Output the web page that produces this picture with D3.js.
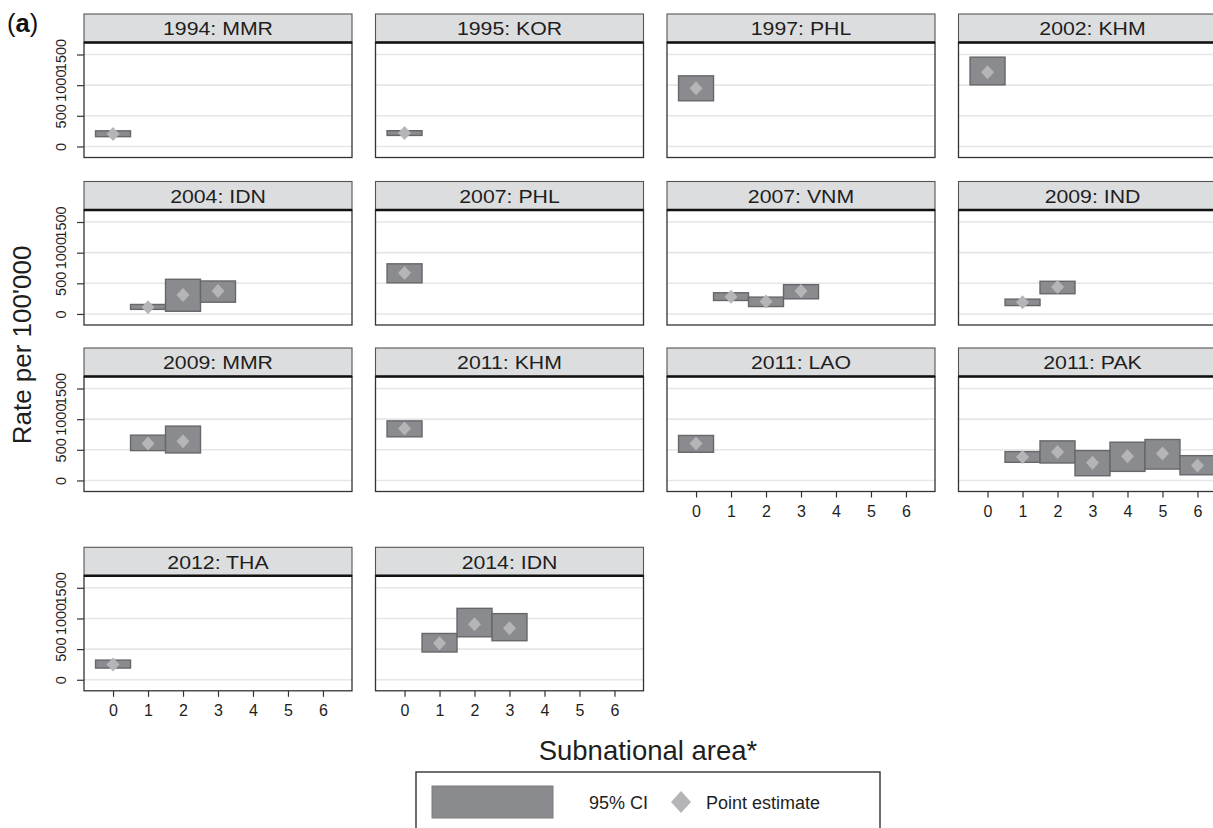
<!DOCTYPE html>
<html>
<head>
<meta charset="utf-8">
<script src="https://cdn.jsdelivr.net/npm/d3@7"></script>
<style>
  html, body { margin: 0; padding: 0; background: #fff; }
  svg { display: block; font-family: "Liberation Sans", Arial, Helvetica, sans-serif; }
</style>
</head>
<body>
<svg id="chart" width="1213" height="828"></svg>
<script>
// ---------- data ----------
const panelTitles = ["1994: MMR", "1995: KOR", "1997: PHL", "2002: KHM",
                     "2004: IDN", "2007: PHL", "2007: VNM", "2009: IND",
                     "2009: MMR", "2011: KHM", "2011: LAO", "2011: PAK",
                     "2012: THA", "2014: IDN"];
const areas = [[0], [0], [0], [0],
               [1, 2, 3], [0], [1, 2, 3], [1, 2],
               [1, 2], [0], [0], [1, 2, 3, 4, 5, 6],
               [0], [1, 2, 3]];
const estimates = [[205], [219], [951], [1212],
                   [110, 308, 374], [668], [280, 203, 374], [192, 440],
                   [602, 641], [846], [602], [383, 465, 290, 394, 438, 246],
                   [250], [594, 906, 842]];
const lower = [[160], [180], [745], [1005],
               [75, 44, 192], [508], [220, 121, 247], [137, 330],
               [487, 449], [712], [460], [296, 285, 77, 148, 186, 93],
               [191], [453, 701, 637]];
const upper = [[255], [257], [1152], [1457],
               [155, 566, 538], [818], [346, 275, 478], [242, 533],
               [739, 887], [972], [734], [471, 646, 487, 624, 668, 405],
               [321], [755, 1165, 1079]];
const yTicks = [0, 500, 1000, 1500];
const xTicks = [0, 1, 2, 3, 4, 5, 6];
const yTitle = "Rate per 100'000";
const xTitle = "Subnational area*";
const legendLabels = ["95% CI", "Point estimate"];

// ---------- layout ----------
const colLeft = [84, 375.5, 667, 958.5];
const rowTop = [14, 181.5, 348, 547.3];
const panelW = 268, stripH = 28.5, plotH = 115;
const nCols = 4;
const bottomInCol = {};
panelTitles.forEach((t, i) => { bottomInCol[i % nCols] = i; });

const colors = {
  strip: "#dcdddf", frame: "#333", grid: "#e6e6e6",
  box: "#8a8b8f", boxStroke: "#67676a", diamond: "#b5b5b7", text: "#1e1e1e"
};
const FONT = "'Liberation Sans', Arial, sans-serif";

const svg = d3.select("#chart");

const x = d3.scaleLinear().domain([-0.83, 6.83]).range([0, panelW]);
const y = d3.scaleLinear().domain([-180, 1696]).range([plotH, 0]);

const diamond = (cx, cy, hw, hh) =>
  `M${cx},${cy - hh}L${cx + hw},${cy}L${cx},${cy + hh}L${cx - hw},${cy}Z`;

panelTitles.forEach((title, i) => {
  const c = i % nCols, r = Math.floor(i / nCols);
  const g = svg.append("g").attr("transform", `translate(${colLeft[c]},${rowTop[r]})`);

  // strip
  g.append("rect").attr("x", 0).attr("y", 0).attr("width", panelW).attr("height", stripH)
    .attr("fill", colors.strip).attr("stroke", "#555").attr("stroke-width", 1.1);
  g.append("text")
    .attr("transform", `translate(${panelW / 2},${stripH / 2 + 7}) scale(1.12,1)`)
    .attr("text-anchor", "middle").attr("font-size", 19).attr("fill", colors.text).text(title);

  const p = g.append("g").attr("transform", `translate(0,${stripH})`);
  p.append("rect").attr("width", panelW).attr("height", plotH).attr("fill", "#fff");
  p.selectAll("line.grid").data(yTicks).join("line").attr("class", "grid")
    .attr("x1", 0).attr("x2", panelW).attr("y1", d => y(d)).attr("y2", d => y(d))
    .attr("stroke", colors.grid).attr("stroke-width", 1.6);

  const rows = areas[i].map((a, k) => ({ a, est: estimates[i][k], lo: lower[i][k], hi: upper[i][k] }));
  p.selectAll("rect.ci").data(rows).join("rect").attr("class", "ci")
    .attr("x", d => x(d.a - 0.5)).attr("width", d => x(d.a + 0.5) - x(d.a - 0.5))
    .attr("y", d => y(d.hi)).attr("height", d => y(d.lo) - y(d.hi))
    .attr("fill", colors.box).attr("stroke", colors.boxStroke).attr("stroke-width", 1.4);
  p.selectAll("path.pt").data(rows).join("path").attr("class", "pt")
    .attr("d", d => diamond(x(d.a), y(d.est), 6.5, 7))
    .attr("fill", colors.diamond);

  p.append("rect").attr("width", panelW).attr("height", plotH).attr("fill", "none")
    .attr("stroke", colors.frame).attr("stroke-width", 1.3);
  p.append("line").attr("x1", 0).attr("x2", panelW).attr("y1", 0).attr("y2", 0)
    .attr("stroke", "#111").attr("stroke-width", 2.4);

  if (c === 0) {
    const ya = p.append("g").call(d3.axisLeft(y).tickValues(yTicks).tickSize(7).tickFormat(d3.format("d")));
    ya.select(".domain").remove();
    ya.selectAll(".tick line").attr("stroke", "#333").attr("stroke-width", 1.2);
    ya.selectAll(".tick text")
      .attr("font-size", 14.5).attr("fill", colors.text).attr("font-family", FONT)
      .attr("transform", "rotate(-90)")
      .attr("x", 0).attr("y", -18).attr("dy", 0)
      .attr("text-anchor", "middle");
  }
  if (bottomInCol[c] === i) {
    const xa = p.append("g").attr("transform", `translate(0,${plotH})`)
      .call(d3.axisBottom(x).tickValues(xTicks).tickSize(6).tickFormat(d3.format("d")));
    xa.select(".domain").remove();
    xa.selectAll(".tick line").attr("stroke", "#333").attr("stroke-width", 1.2);
    xa.selectAll(".tick text").attr("font-size", 16).attr("fill", colors.text)
      .attr("font-family", FONT).attr("y", 14);
  }
});

// panel label
const lab = svg.append("text").attr("x", 7).attr("y", 31.5).attr("font-size", 25.5).attr("fill", "#111");
lab.append("tspan").text("(");
lab.append("tspan").attr("font-weight", "bold").text("a");
lab.append("tspan").text(")");

// axis titles
svg.append("text").attr("transform", "translate(31,345) rotate(-90)")
  .attr("text-anchor", "middle").attr("font-size", 26).attr("fill", colors.text).text(yTitle);
svg.append("text").attr("x", 648).attr("y", 760)
  .attr("text-anchor", "middle").attr("font-size", 27.5).attr("fill", colors.text).text(xTitle);

// legend
const lg = svg.append("g");
lg.append("rect").attr("x", 416).attr("y", 772).attr("width", 464).attr("height", 70)
  .attr("fill", "#fff").attr("stroke", "#222").attr("stroke-width", 1.3);
lg.append("rect").attr("x", 432).attr("y", 786).attr("width", 121).attr("height", 32)
  .attr("fill", colors.box).attr("stroke", "#7a7a7c").attr("stroke-width", 1);
lg.append("text").attr("x", 589).attr("y", 809).attr("font-size", 18).attr("fill", colors.text).text(legendLabels[0]);
lg.append("path").attr("d", diamond(681, 802, 10, 11)).attr("fill", colors.diamond);
lg.append("text").attr("x", 706).attr("y", 809).attr("font-size", 18).attr("fill", colors.text).text(legendLabels[1]);
</script>
</body>
</html>
